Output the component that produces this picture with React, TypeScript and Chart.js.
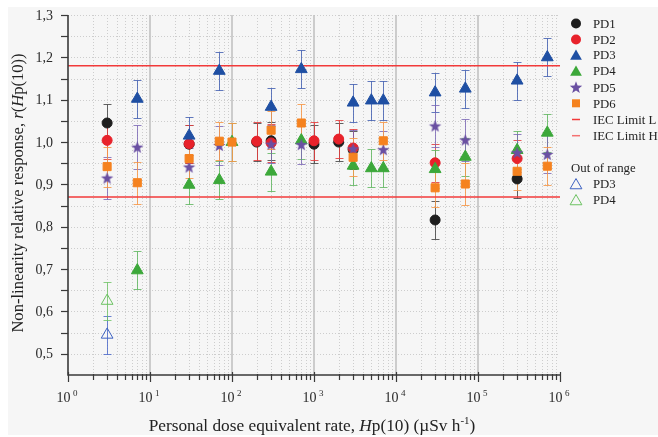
import { useEffect, useRef } from 'react';
import { Chart, registerables } from 'chart.js';

Chart.register(...registerables);

// Dose-rate points (µSv/h) and relative responses for each dosimeter
const PD1_X = [3, 30, 200, 300, 1000, 2000, 3000, 30000, 300000];
const PD1_Y = [1.045, 0.995, 1.0, 1.003, 0.995, 1.0, 0.982, 0.816, 0.913];
const PD1_ERR = [0.045, 0.045, 0.045, 0.045, 0.045, 0.045, 0.045, 0.044, 0.045];

const PD2_X = [3, 30, 200, 300, 1000, 2000, 3000, 30000, 300000];
const PD2_Y = [1.004, 0.996, 1.002, 0.998, 1.003, 1.007, 0.986, 0.951, 0.961];
const PD2_ERR = [0.045, 0.045, 0.045, 0.045, 0.045, 0.045, 0.045, 0.045, 0.045];

const PD3_X = [7, 30, 70, 300, 700, 3000, 5000, 7000, 30000, 70000, 300000, 700000];
const PD3_Y = [1.102, 1.015, 1.168, 1.083, 1.172, 1.093, 1.098, 1.098, 1.117, 1.126, 1.145, 1.2];
const PD3_ERR = [0.045, 0.045, 0.045, 0.045, 0.045, 0.045, 0.045, 0.045, 0.045, 0.045, 0.045, 0.045];

const PD4_X = [7, 30, 70, 100, 300, 700, 3000, 5000, 7000, 30000, 70000, 300000, 700000];
const PD4_Y = [0.697, 0.899, 0.91, 1.0, 0.93, 1.004, 0.944, 0.938, 0.938, 0.936, 0.965, 0.981, 1.022];
const PD4_ERR = [0.045, 0.045, 0.045, 0.045, 0.045, 0.045, 0.045, 0.045, 0.045, 0.045, 0.045, 0.045, 0.045];

const PD5_X = [3, 7, 30, 70, 300, 700, 3000, 7000, 30000, 70000, 300000, 700000];
const PD5_Y = [0.915, 0.988, 0.941, 0.992, 0.995, 0.994, 0.984, 0.982, 1.038, 1.005, 0.975, 0.971];
const PD5_ERR = [0.05, 0.052, 0.045, 0.045, 0.045, 0.045, 0.045, 0.045, 0.05, 0.05, 0.045, 0.045];

const PD6_X = [3, 7, 30, 70, 100, 300, 700, 3000, 7000, 30000, 70000, 300000, 700000];
const PD6_Y = [0.942, 0.904, 0.961, 1.002, 1.0, 1.028, 1.045, 0.964, 1.003, 0.892, 0.901, 0.931, 0.943];
const PD6_ERR = [0.047, 0.05, 0.045, 0.045, 0.045, 0.045, 0.045, 0.045, 0.045, 0.045, 0.05, 0.045, 0.045];

// Points outside the dosimeter's rated range
const PD3_OUT_X = [3];
const PD3_OUT_Y = [0.545];
const PD3_OUT_ERR = [0.045];
const PD4_OUT_X = [3];
const PD4_OUT_Y = [0.625];
const PD4_OUT_ERR = [0.045];

// IEC acceptance limits
const IEC_LIMIT_L = 0.87;
const IEC_LIMIT_H = 1.18;

const X_MIN = 1;
const X_MAX = 1e6;
const Y_MIN = 0.45;
const Y_MAX = 1.3;
const Y_TICKS = [0.5, 0.6, 0.7, 0.8, 0.9, 1.0, 1.1, 1.2, 1.3];
const X_DECADES = [0, 1, 2, 3, 4, 5, 6];

const SERIF = '"Liberation Serif", "Times New Roman", serif';

type Seg = { t: string; italic?: boolean; sup?: boolean; dx?: number };

function segFont(s: Seg, size: number) {
  const sz = s.sup ? Math.round(size * 0.66) : size;
  return `${s.italic ? 'italic ' : ''}${sz}px ${SERIF}`;
}

function drawRich(ctx: CanvasRenderingContext2D, segs: Seg[], cx: number, y: number, size: number) {
  let total = 0;
  for (const s of segs) {
    ctx.font = segFont(s, size);
    total += ctx.measureText(s.t).width + (s.dx || 0);
  }
  let x = cx - total / 2;
  ctx.textAlign = 'left';
  ctx.textBaseline = 'alphabetic';
  for (const s of segs) {
    ctx.font = segFont(s, size);
    x += s.dx || 0;
    ctx.fillText(s.t, x, s.sup ? y - size * 0.42 : y);
    x += ctx.measureText(s.t).width;
  }
}

function makeStar(color: string, outer: number, inner: number) {
  const c = document.createElement('canvas');
  const size = Math.ceil(outer * 2 + 2);
  c.width = size;
  c.height = size;
  const g = c.getContext('2d')!;
  drawStarPath(g, size / 2, size / 2 + 0.5, outer, inner);
  g.fillStyle = color;
  g.fill();
  return c;
}

function drawStarPath(g: CanvasRenderingContext2D, cx: number, cy: number, outer: number, inner: number) {
  g.beginPath();
  for (let i = 0; i < 10; i++) {
    const r = i % 2 === 0 ? outer : inner;
    const a = -Math.PI / 2 + (i * Math.PI) / 5;
    const px = cx + Math.cos(a) * r;
    const py = cy + Math.sin(a) * r;
    if (i === 0) g.moveTo(px, py);
    else g.lineTo(px, py);
  }
  g.closePath();
}

function tri(ctx: CanvasRenderingContext2D, x: number, y: number, r: number) {
  ctx.beginPath();
  for (let i = 0; i < 3; i++) {
    const ang = (i * 2 * Math.PI) / 3;
    const px = x + Math.sin(ang) * r;
    const py = y - Math.cos(ang) * r + r * 0.2;
    if (i === 0) ctx.moveTo(px, py);
    else ctx.lineTo(px, py);
  }
  ctx.closePath();
}

function pts(xs: number[], ys: number[]) {
  return xs.map((x, i) => ({ x, y: ys[i] }));
}

const COLORS = {
  pd1: '#1e1e1e',
  pd2: '#e8222b',
  pd3: '#1f4fa3',
  pd4: '#3ca83a',
  pd5: '#6a50a2',
  pd6: '#f5821f',
  pd3Out: '#3d62c2',
  pd4Out: '#6cc262',
  limit: '#f23a3a',
  limitH: '#f47272',
};

const ERR_COLORS: Record<string, string> = {
  PD1: 'rgba(70,70,70,0.85)',
  PD2: 'rgba(228,60,60,0.85)',
  PD3: 'rgba(60,90,175,0.8)',
  PD4: 'rgba(90,180,90,0.8)',
  PD5: 'rgba(120,100,180,0.8)',
  PD6: 'rgba(246,150,70,0.85)',
  PD3out: 'rgba(70,100,200,0.8)',
  PD4out: 'rgba(110,195,100,0.8)',
};

const ERRS: Record<string, number[]> = {
  PD1: PD1_ERR,
  PD2: PD2_ERR,
  PD3: PD3_ERR,
  PD4: PD4_ERR,
  PD5: PD5_ERR,
  PD6: PD6_ERR,
  PD3out: PD3_OUT_ERR,
  PD4out: PD4_OUT_ERR,
};

const framePlugin = {
  id: 'frame',
  beforeDraw(chart: any) {
    const { ctx, width, height } = chart;
    ctx.save();
    ctx.fillStyle = '#ffffff';
    ctx.fillRect(0, 0, width, height);
    ctx.fillStyle = '#f6f6f6';
    ctx.fillRect(8, 7, width - 8, height - 9);
    ctx.restore();
  },
  beforeDatasetsDraw(chart: any) {
    const { ctx, chartArea: a, scales } = chart;
    const xs = scales.x;
    const ys = scales.y;
    ctx.save();
    // dotted grid
    ctx.strokeStyle = '#cdcdcd';
    ctx.lineWidth = 1;
    ctx.setLineDash([1, 2]);
    for (let v = 0.5; v <= 1.3001; v += 0.05) {
      const y = Math.round(ys.getPixelForValue(v)) + 0.5;
      ctx.beginPath();
      ctx.moveTo(a.left, y);
      ctx.lineTo(a.right, y);
      ctx.stroke();
    }
    for (let d = 0; d < 6; d++) {
      for (let k = 2; k <= 9; k++) {
        const x = Math.round(xs.getPixelForValue(k * Math.pow(10, d))) + 0.5;
        ctx.beginPath();
        ctx.moveTo(x, a.top);
        ctx.lineTo(x, a.bottom);
        ctx.stroke();
      }
    }
    ctx.setLineDash([]);
    // decade lines
    ctx.strokeStyle = '#c2c2c2';
    ctx.lineWidth = 1.6;
    for (let d = 1; d <= 5; d++) {
      const x = xs.getPixelForValue(Math.pow(10, d));
      ctx.beginPath();
      ctx.moveTo(x, a.top);
      ctx.lineTo(x, a.bottom);
      ctx.stroke();
    }
    // error bars
    chart.data.datasets.forEach((ds: any) => {
      const errs = ERRS[ds.key];
      if (!errs) return;
      ctx.strokeStyle = ERR_COLORS[ds.key];
      ctx.lineWidth = 1;
      ds.data.forEach((p: any, i: number) => {
        const e = errs[i];
        const x = Math.round(xs.getPixelForValue(p.x)) + 0.5;
        const y1 = Math.round(ys.getPixelForValue(p.y + e)) + 0.5;
        const y2 = Math.round(ys.getPixelForValue(p.y - e)) + 0.5;
        ctx.beginPath();
        ctx.moveTo(x, y1);
        ctx.lineTo(x, y2);
        ctx.moveTo(x - 4, y1);
        ctx.lineTo(x + 4, y1);
        ctx.moveTo(x - 4, y2);
        ctx.lineTo(x + 4, y2);
        ctx.stroke();
      });
    });
    ctx.restore();
  },
  afterDraw(chart: any) {
    const { ctx, chartArea: a, scales } = chart;
    const xs = scales.x;
    const ys = scales.y;
    ctx.save();
    // axes
    ctx.strokeStyle = '#3a3a3a';
    ctx.lineWidth = 1.6;
    ctx.beginPath();
    ctx.moveTo(a.left, a.top);
    ctx.lineTo(a.left, a.bottom);
    ctx.lineTo(a.right, a.bottom);
    ctx.stroke();
    // y ticks
    ctx.lineWidth = 1.2;
    for (let v = 0.5; v <= 1.3001; v += 0.05) {
      const y = Math.round(ys.getPixelForValue(v)) + 0.5;
      ctx.beginPath();
      ctx.moveTo(a.left - 7, y);
      ctx.lineTo(a.left, y);
      ctx.stroke();
    }
    // x ticks
    for (let d = 0; d <= 6; d++) {
      const x = Math.round(xs.getPixelForValue(Math.pow(10, d))) + 0.5;
      ctx.beginPath();
      ctx.moveTo(x, a.bottom - 3);
      ctx.lineTo(x, a.bottom + 7);
      ctx.stroke();
      if (d < 6) {
        for (let k = 2; k <= 9; k++) {
          const xm = Math.round(xs.getPixelForValue(k * Math.pow(10, d))) + 0.5;
          ctx.beginPath();
          ctx.moveTo(xm, a.bottom - 1);
          ctx.lineTo(xm, a.bottom + 5);
          ctx.stroke();
        }
      }
    }
    // y tick labels
    ctx.fillStyle = '#2a2a2a';
    ctx.font = `14px ${SERIF}`;
    ctx.textAlign = 'right';
    ctx.textBaseline = 'middle';
    Y_TICKS.forEach((v) => {
      ctx.fillText(v.toFixed(1).replace('.', ','), 53, ys.getPixelForValue(v) + 1);
    });
    // x tick labels
    X_DECADES.forEach((d) => {
      const x = xs.getPixelForValue(Math.pow(10, d));
      drawRich(ctx, [{ t: '10' }, { t: String(d), sup: true, dx: 2.5 }], x - 1, 402, 14);
    });
    // axis titles
    ctx.fillStyle = '#222';
    drawRich(
      ctx,
      [
        { t: 'Personal dose equivalent rate, ' },
        { t: 'H', italic: true },
        { t: 'p(10) (µSv h' },
        { t: '-1', sup: true },
        { t: ')' },
      ],
      312,
      431,
      17.3
    );
    ctx.save();
    ctx.translate(23, 193);
    ctx.rotate(-Math.PI / 2);
    drawRich(
      ctx,
      [
        { t: 'Non-linearity relative response, ' },
        { t: 'r', italic: true },
        { t: '(' },
        { t: 'H', italic: true },
        { t: 'p(10))' },
      ],
      0,
      0,
      16.6
    );
    ctx.restore();
    // legend
    const lx = 576;
    const tx = 593;
    const LEG_FONT = `12.8px ${SERIF}`;
    const rows = [23.5, 39.5, 55, 71, 87.3, 103.3, 119.5, 135.7];
    const names = ['PD1', 'PD2', 'PD3', 'PD4', 'PD5', 'PD6', 'IEC Limit L', 'IEC Limit H'];
    rows.forEach((ry, i) => {
      ctx.save();
      if (i === 0 || i === 1) {
        ctx.fillStyle = i === 0 ? COLORS.pd1 : COLORS.pd2;
        ctx.beginPath();
        ctx.arc(lx, ry, 5, 0, Math.PI * 2);
        ctx.fill();
      } else if (i === 2 || i === 3) {
        ctx.fillStyle = i === 2 ? COLORS.pd3 : COLORS.pd4;
        tri(ctx, lx, ry, 6.8);
        ctx.fill();
      } else if (i === 4) {
        ctx.fillStyle = COLORS.pd5;
        drawStarPath(ctx, lx, ry + 0.5, 6.5, 2.7);
        ctx.fill();
      } else if (i === 5) {
        ctx.fillStyle = COLORS.pd6;
        ctx.fillRect(lx - 4, ry - 4, 8, 8);
      } else {
        ctx.strokeStyle = i === 6 ? COLORS.limit : COLORS.limitH;
        ctx.lineWidth = 1.5;
        ctx.beginPath();
        ctx.moveTo(lx - 4, ry);
        ctx.lineTo(lx + 4, ry);
        ctx.stroke();
      }
      ctx.restore();
      ctx.fillStyle = '#222';
      ctx.font = LEG_FONT;
      ctx.textAlign = 'left';
      ctx.textBaseline = 'middle';
      ctx.fillText(names[i], tx, ry + 1);
    });
    ctx.fillText('Out of range', 571, 168.5);
    [
      { y: 184, c: COLORS.pd3Out, n: 'PD3' },
      { y: 200, c: COLORS.pd4Out, n: 'PD4' },
    ].forEach((r) => {
      ctx.save();
      ctx.strokeStyle = r.c;
      ctx.lineWidth = 1;
      tri(ctx, lx, r.y, 6.8);
      ctx.stroke();
      ctx.restore();
      ctx.fillStyle = '#222';
      ctx.fillText(r.n, tx, r.y + 1);
    });
    ctx.restore();
  },
};

export default function App() {
  const ref = useRef<HTMLCanvasElement>(null);

  useEffect(() => {
    document.body.style.margin = '0';
    const star = makeStar(COLORS.pd5, 6.5, 2.7);
    const scatter = (key: string, label: string, data: any[], style: any, color: string, radius: number, order: number, extra: any = {}) => ({
      type: 'scatter' as const,
      key,
      label,
      data,
      pointStyle: style,
      pointRadius: radius,
      backgroundColor: color,
      borderColor: color,
      borderWidth: 1,
      order,
      ...extra,
    });
    const chart = new Chart(ref.current!, {
      type: 'scatter',
      data: {
        datasets: [
          {
            type: 'line',
            label: 'IEC Limit L',
            data: [
              { x: X_MIN, y: IEC_LIMIT_L },
              { x: X_MAX, y: IEC_LIMIT_L },
            ],
            borderColor: COLORS.limit,
            borderWidth: 1.5,
            pointRadius: 0,
            order: 100,
          },
          {
            type: 'line',
            label: 'IEC Limit H',
            data: [
              { x: X_MIN, y: IEC_LIMIT_H },
              { x: X_MAX, y: IEC_LIMIT_H },
            ],
            borderColor: COLORS.limit,
            borderWidth: 1.5,
            pointRadius: 0,
            order: 99,
          },
          scatter('PD1', 'PD1', pts(PD1_X, PD1_Y), 'circle', COLORS.pd1, 5, 16),
          scatter('PD2', 'PD2', pts(PD2_X, PD2_Y), 'circle', COLORS.pd2, 5, 15),
          scatter('PD3', 'PD3', pts(PD3_X, PD3_Y), 'triangle', COLORS.pd3, 6.8, 14),
          scatter('PD4', 'PD4', pts(PD4_X, PD4_Y), 'triangle', COLORS.pd4, 6.8, 13),
          scatter('PD5', 'PD5', pts(PD5_X, PD5_Y), star, COLORS.pd5, 6.5, 12),
          scatter('PD6', 'PD6', pts(PD6_X, PD6_Y), 'rect', COLORS.pd6, 5.7, 11),
          scatter('PD3out', 'PD3', pts(PD3_OUT_X, PD3_OUT_Y), 'triangle', 'rgba(0,0,0,0)', 6.8, 10, {
            borderColor: COLORS.pd3Out,
          }),
          scatter('PD4out', 'PD4', pts(PD4_OUT_X, PD4_OUT_Y), 'triangle', 'rgba(0,0,0,0)', 6.8, 10, {
            borderColor: COLORS.pd4Out,
          }),
        ] as any,
      },
      options: {
        animation: false,
        responsive: false,
        events: [],
        layout: { padding: { left: 68, right: 98, top: 15, bottom: 62 } },
        plugins: { legend: { display: false }, tooltip: { enabled: false } },
        scales: {
          x: { type: 'logarithmic', min: X_MIN, max: X_MAX, display: false },
          y: { type: 'linear', min: Y_MIN, max: Y_MAX, display: false },
        },
      },
      plugins: [framePlugin],
    });
    return () => chart.destroy();
  }, []);

  return (
    <div style={{ width: 658, height: 437 }}>
      <canvas ref={ref} width={658} height={437} style={{ display: 'block', width: 658, height: 437 }} />
    </div>
  );
}
